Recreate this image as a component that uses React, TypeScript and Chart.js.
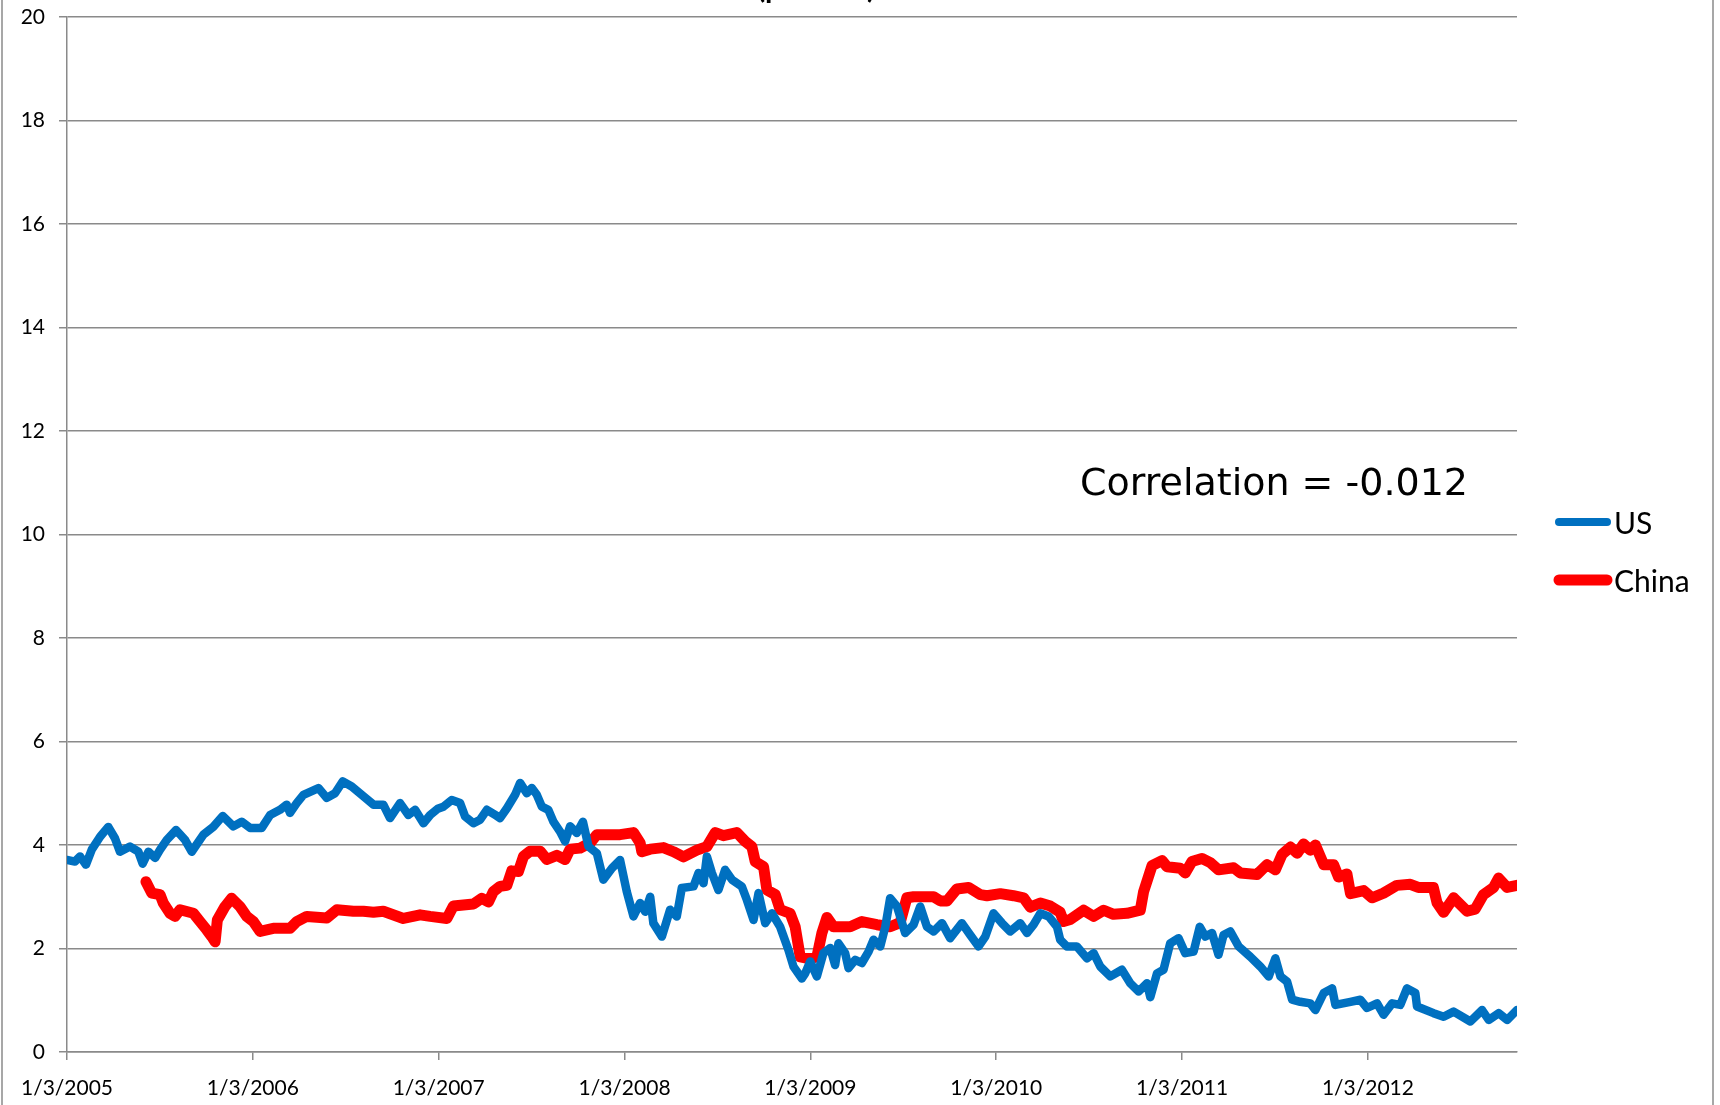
import React, { useEffect, useRef } from "react";
import { Chart, registerables } from "chart.js";
Chart.register(...registerables);

// time in years since 1/3/2005
const usYears = [0, 0.043, 0.07, 0.102, 0.133, 0.178, 0.222, 0.258, 0.285, 0.339, 0.384, 0.407, 0.438, 0.474, 0.501, 0.537, 0.587, 0.635, 0.671, 0.734, 0.787, 0.838, 0.895, 0.94, 0.985, 1.048, 1.093, 1.146, 1.182, 1.2, 1.236, 1.272, 1.353, 1.398, 1.442, 1.484, 1.532, 1.595, 1.649, 1.702, 1.738, 1.792, 1.837, 1.873, 1.918, 1.954, 1.995, 2.025, 2.07, 2.115, 2.142, 2.187, 2.223, 2.259, 2.304, 2.33, 2.367, 2.411, 2.438, 2.474, 2.501, 2.528, 2.555, 2.59, 2.617, 2.653, 2.68, 2.707, 2.743, 2.776, 2.806, 2.851, 2.886, 2.932, 2.976, 3.012, 3.048, 3.084, 3.111, 3.138, 3.155, 3.201, 3.245, 3.281, 3.308, 3.371, 3.398, 3.425, 3.443, 3.47, 3.505, 3.541, 3.578, 3.631, 3.658, 3.694, 3.721, 3.757, 3.793, 3.837, 3.882, 3.909, 3.954, 3.972, 3.999, 4.035, 4.07, 4.107, 4.133, 4.151, 4.187, 4.205, 4.241, 4.277, 4.313, 4.34, 4.376, 4.403, 4.429, 4.466, 4.51, 4.555, 4.591, 4.627, 4.663, 4.708, 4.752, 4.815, 4.86, 4.905, 4.941, 4.985, 5.031, 5.075, 5.129, 5.165, 5.201, 5.237, 5.282, 5.327, 5.344, 5.38, 5.434, 5.488, 5.524, 5.56, 5.614, 5.676, 5.721, 5.766, 5.811, 5.829, 5.865, 5.9, 5.936, 5.981, 6.017, 6.062, 6.095, 6.125, 6.161, 6.196, 6.223, 6.259, 6.304, 6.367, 6.421, 6.466, 6.502, 6.529, 6.565, 6.592, 6.636, 6.69, 6.717, 6.762, 6.807, 6.825, 6.906, 6.959, 6.995, 7.049, 7.084, 7.13, 7.174, 7.21, 7.255, 7.264, 7.353, 7.407, 7.461, 7.551, 7.614, 7.65, 7.703, 7.749, 7.802];
const usValues = [3.71, 3.68, 3.78, 3.62, 3.91, 4.16, 4.35, 4.13, 3.87, 3.97, 3.87, 3.64, 3.87, 3.75, 3.91, 4.1, 4.29, 4.1, 3.87, 4.2, 4.35, 4.56, 4.36, 4.45, 4.33, 4.33, 4.58, 4.68, 4.78, 4.62, 4.81, 4.97, 5.1, 4.91, 5.0, 5.23, 5.13, 4.94, 4.78, 4.78, 4.52, 4.81, 4.58, 4.68, 4.42, 4.58, 4.7, 4.74, 4.87, 4.81, 4.55, 4.42, 4.49, 4.68, 4.58, 4.52, 4.71, 4.97, 5.2, 5.0, 5.1, 4.97, 4.74, 4.68, 4.45, 4.26, 4.07, 4.36, 4.23, 4.45, 3.97, 3.84, 3.33, 3.55, 3.71, 3.1, 2.62, 2.88, 2.71, 3.0, 2.49, 2.23, 2.75, 2.62, 3.17, 3.2, 3.46, 3.26, 3.78, 3.46, 3.13, 3.52, 3.33, 3.2, 2.94, 2.55, 3.07, 2.49, 2.68, 2.42, 1.97, 1.65, 1.42, 1.52, 1.75, 1.46, 1.91, 2.01, 1.68, 2.1, 1.91, 1.62, 1.78, 1.72, 1.94, 2.17, 2.04, 2.42, 2.97, 2.81, 2.3, 2.46, 2.81, 2.42, 2.33, 2.49, 2.2, 2.49, 2.26, 2.04, 2.23, 2.68, 2.49, 2.33, 2.49, 2.3, 2.46, 2.68, 2.62, 2.42, 2.17, 2.04, 2.04, 1.81, 1.91, 1.65, 1.46, 1.59, 1.33, 1.17, 1.33, 1.06, 1.52, 1.59, 2.1, 2.2, 1.91, 1.94, 2.42, 2.23, 2.3, 1.88, 2.26, 2.33, 2.04, 1.84, 1.65, 1.46, 1.81, 1.46, 1.36, 1.01, 0.97, 0.94, 0.81, 1.14, 1.23, 0.91, 0.97, 1.01, 0.85, 0.94, 0.72, 0.94, 0.91, 1.23, 1.14, 0.88, 0.75, 0.68, 0.78, 0.59, 0.81, 0.62, 0.75, 0.62, 0.81];

const chinaYears = [0.425, 0.456, 0.501, 0.518, 0.554, 0.581, 0.608, 0.68, 0.716, 0.752, 0.779, 0.797, 0.809, 0.85, 0.886, 0.931, 0.967, 1.003, 1.039, 1.11, 1.2, 1.236, 1.29, 1.398, 1.452, 1.541, 1.595, 1.649, 1.702, 1.81, 1.9, 1.954, 2.044, 2.079, 2.133, 2.187, 2.232, 2.268, 2.294, 2.33, 2.367, 2.393, 2.429, 2.456, 2.492, 2.546, 2.582, 2.636, 2.68, 2.707, 2.761, 2.815, 2.851, 2.905, 2.976, 3.048, 3.084, 3.093, 3.138, 3.209, 3.263, 3.317, 3.389, 3.443, 3.488, 3.532, 3.604, 3.649, 3.685, 3.703, 3.748, 3.766, 3.811, 3.837, 3.891, 3.918, 3.945, 3.999, 4.035, 4.062, 4.089, 4.124, 4.214, 4.277, 4.358, 4.429, 4.483, 4.519, 4.555, 4.663, 4.699, 4.735, 4.788, 4.851, 4.914, 4.95, 5.022, 5.093, 5.147, 5.183, 5.237, 5.291, 5.344, 5.362, 5.398, 5.47, 5.524, 5.578, 5.631, 5.703, 5.775, 5.793, 5.838, 5.892, 5.919, 5.99, 6.017, 6.053, 6.107, 6.152, 6.196, 6.277, 6.313, 6.403, 6.457, 6.502, 6.538, 6.583, 6.619, 6.654, 6.69, 6.717, 6.762, 6.815, 6.842, 6.887, 6.906, 6.977, 7.022, 7.084, 7.156, 7.228, 7.271, 7.352, 7.372, 7.407, 7.461, 7.533, 7.577, 7.621, 7.676, 7.703, 7.749, 7.802];
const chinaValues = [3.29, 3.07, 3.04, 2.88, 2.68, 2.62, 2.75, 2.68, 2.52, 2.36, 2.23, 2.13, 2.55, 2.81, 2.97, 2.81, 2.62, 2.52, 2.33, 2.39, 2.39, 2.52, 2.62, 2.59, 2.75, 2.72, 2.72, 2.7, 2.72, 2.58, 2.65, 2.62, 2.58, 2.82, 2.84, 2.86, 2.97, 2.9, 3.1, 3.2, 3.22, 3.5, 3.49, 3.78, 3.88, 3.88, 3.72, 3.8, 3.72, 3.92, 3.94, 4.04, 4.2, 4.2, 4.2, 4.24, 4.04, 3.87, 3.92, 3.95, 3.87, 3.77, 3.9, 3.97, 4.24, 4.18, 4.24, 4.07, 3.97, 3.68, 3.58, 3.13, 3.04, 2.75, 2.68, 2.42, 1.84, 1.8, 1.84, 2.3, 2.6, 2.42, 2.42, 2.52, 2.46, 2.42, 2.5, 2.98, 3.0, 3.0, 2.92, 2.92, 3.15, 3.18, 3.04, 3.02, 3.06, 3.02, 2.98, 2.8, 2.88, 2.82, 2.7, 2.52, 2.56, 2.74, 2.62, 2.74, 2.66, 2.68, 2.74, 3.1, 3.6, 3.7, 3.58, 3.55, 3.46, 3.68, 3.74, 3.66, 3.52, 3.56, 3.46, 3.43, 3.62, 3.52, 3.82, 3.96, 3.84, 4.02, 3.9, 4.0, 3.62, 3.62, 3.38, 3.44, 3.06, 3.12, 2.98, 3.07, 3.22, 3.24, 3.18, 3.18, 2.88, 2.7, 2.98, 2.72, 2.76, 3.04, 3.18, 3.36, 3.18, 3.22];

const yearTicks = [0, 1, 2, 3, 4, 5, 6, 7];
const tickLabels = ["1/3/2005", "1/3/2006", "1/3/2007", "1/3/2008", "1/3/2009", "1/3/2010", "1/3/2011", "1/3/2012"];
const seriesNames = ["US", "China"];
const seriesColors = ["#0070C0", "#FF0000"];
const titleText = ["5-Year Government Bond Yields ", "(percent)"];
const annotation = "Correlation = -0.012";

const W = 1720;
const H = 1105;

export default function App() {
  const ref = useRef<HTMLCanvasElement | null>(null);
  useEffect(() => {
    document.body.style.margin = "0";
    const canvas = ref.current;
    if (!canvas) return;
    const overlay = {
      id: "overlay",
      afterDraw(chart: any) {
        const ctx = chart.ctx as CanvasRenderingContext2D;
        ctx.save();
        // outer frame
        ctx.strokeStyle = "#8a8a8a";
        ctx.lineWidth = 1.5;
        ctx.beginPath();
        ctx.moveTo(2, 0);
        ctx.lineTo(2, H);
        ctx.moveTo(1713, 0);
        ctx.lineTo(1713, H);
        ctx.stroke();
        // title (mostly cut off at the top)
        ctx.fillStyle = "#000";
        ctx.font = "bold 30px Lato";
        ctx.textBaseline = "alphabetic";
        ctx.textAlign = "right";
        ctx.fillText(titleText[0], 757, -2);
        ctx.textAlign = "left";
        ctx.fillText(titleText[1], 757, -2);
        // correlation annotation
        ctx.font = "38px 'DejaVu Sans'";
        ctx.fillText(annotation, 1080, 495);
        // legend
        const items = [
          { y: 522, w: 8 },
          { y: 580, w: 11 },
        ];
        items.forEach((it, i) => {
          ctx.strokeStyle = seriesColors[i];
          ctx.lineWidth = it.w;
          ctx.lineCap = "round";
          ctx.beginPath();
          ctx.moveTo(1559, it.y);
          ctx.lineTo(1607, it.y);
          ctx.stroke();
          ctx.fillStyle = "#000";
          ctx.font = "30px Lato";
          ctx.textBaseline = "middle";
          ctx.textAlign = "left";
          ctx.fillText(seriesNames[i], 1614, it.y + 2);
        });
        ctx.restore();
      },
    };
    const chart = new Chart(canvas, {
      type: "line",
      data: {
        datasets: [
          {
            label: seriesNames[0],
            data: usYears.map((t, i) => ({ x: t, y: usValues[i] })),
            borderColor: seriesColors[0],
            borderWidth: 8.5,
            pointRadius: 0,
            tension: 0,
            borderCapStyle: "round",
            borderJoinStyle: "round",
            fill: false,
          },
          {
            label: seriesNames[1],
            data: chinaYears.map((t, i) => ({ x: t, y: chinaValues[i] })),
            borderColor: seriesColors[1],
            borderWidth: 11,
            pointRadius: 0,
            tension: 0,
            borderCapStyle: "round",
            borderJoinStyle: "round",
            fill: false,
          },
        ],
      },
      options: {
        responsive: false,
        animation: false,
        layout: { padding: { top: 17, right: 203, left: 0, bottom: 0 } },
        plugins: {
          legend: { display: false },
          title: { display: false },
          tooltip: { enabled: false },
        },
        scales: {
          x: {
            type: "linear",
            min: 0,
            max: 7.802,
            afterBuildTicks: (scale: any) => {
              scale.ticks = yearTicks.map((v) => ({ value: v }));
            },
            afterFit: (scale: any) => {
              scale.height = 53;
              scale.paddingLeft = 0;
              scale.paddingRight = 0;
            },
            ticks: {
              autoSkip: false,
              maxRotation: 0,
              padding: 16,
              color: "#000",
              font: { family: "Lato", size: 21 },
              callback: (v: any) => {
                const i = yearTicks.indexOf(Number(v));
                return i >= 0 ? tickLabels[i] : "";
              },
            },
            grid: {
              drawOnChartArea: false,
              drawTicks: true,
              tickLength: 8,
              color: "#8a8a8a",
              lineWidth: 1.5,
            },
            border: { display: true, color: "#8a8a8a", width: 1.5 },
          },
          y: {
            min: 0,
            max: 20,
            afterFit: (scale: any) => {
              scale.width = 67;
              scale.paddingTop = 0;
              scale.paddingBottom = 0;
            },
            ticks: {
              stepSize: 2,
              padding: 14,
              color: "#000",
              font: { family: "Lato", size: 21 },
            },
            grid: {
              color: "#8a8a8a",
              lineWidth: 1.5,
              tickLength: 8,
              drawTicks: true,
            },
            border: { display: true, color: "#8a8a8a", width: 1.5 },
          },
        },
      },
      plugins: [overlay],
    } as any);
    return () => chart.destroy();
  }, []);
  return (
    <div style={{ position: "fixed", left: 0, top: 0, width: W, height: H, background: "#fff" }}>
      <canvas ref={ref} width={W} height={H} style={{ display: "block" }} />
    </div>
  );
}
